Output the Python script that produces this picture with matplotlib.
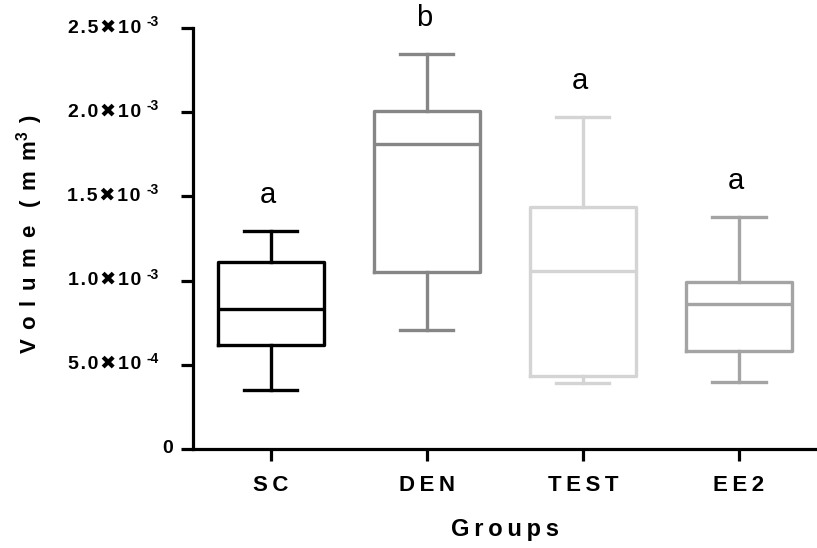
import matplotlib
matplotlib.use("Agg")
import matplotlib.pyplot as plt

# box statistics (values in mm^3)
groups = ["SC", "DEN", "TEST", "EE2"]
whisker_low = [0.35e-3, 0.707e-3, 0.39e-3, 0.40e-3]
q1 = [0.618e-3, 1.05e-3, 0.433e-3, 0.58e-3]
median = [0.83e-3, 1.81e-3, 1.057e-3, 0.86e-3]
q3 = [1.11e-3, 2.007e-3, 1.437e-3, 0.99e-3]
whisker_high = [1.295e-3, 2.345e-3, 1.97e-3, 1.378e-3]
letters = ["a", "b", "a", "a"]
colors = ["#000000", "#868686", "#d4d4d4", "#a4a4a4"]

yticks = [0, 0.5e-3, 1.0e-3, 1.5e-3, 2.0e-3, 2.5e-3]
ytick_mant = ["0", "5.0", "1.0", "1.5", "2.0", "2.5"]
ytick_exp = [None, "-4", "-3", "-3", "-3", "-3"]

plt.rcParams['font.family'] = ['Liberation Sans', 'DejaVu Sans']
plt.rcParams['mathtext.fontset'] = 'custom'
plt.rcParams['mathtext.rm'] = 'Liberation Sans'
plt.rcParams['mathtext.bf'] = 'Liberation Sans:bold'

HS = "\u200a"   # hair space
TS = "\u2009"   # thin space


def spaced(s, sep=HS):
    return sep.join(s)


fig = plt.figure(figsize=(8.17, 5.48), dpi=100)
ax = fig.add_axes([0.236, 0.1807, 0.764, 0.7682])

lw = 2.4
for i, g in enumerate(groups):
    stats = [dict(med=median[i], q1=q1[i], q3=q3[i],
                  whislo=whisker_low[i], whishi=whisker_high[i], fliers=[])]
    c = colors[i]
    ax.bxp(stats, positions=[i], widths=0.68, capwidths=0.34, showfliers=False,
           boxprops=dict(color=c, linewidth=lw),
           medianprops=dict(color=c, linewidth=lw),
           whiskerprops=dict(color=c, linewidth=lw),
           capprops=dict(color=c, linewidth=lw),
           manage_ticks=False)
    ax.annotate(letters[i], (i, whisker_high[i]), xytext=(-2, 26),
                textcoords="offset points", ha="center", va="center",
                fontsize=21, annotation_clip=False)

ax.set_xlim(-0.5, 3.5)
ax.set_ylim(0, 2.5e-3)
ax.set_xticks(range(len(groups)))
ax.set_xticklabels([spaced(g, TS) for g in groups], fontsize=16, fontweight="bold")
ax.set_yticks(yticks)
ax.set_yticklabels([])

# y tick labels: mantissa x 10 with a raised exponent
for y, m, e in zip(yticks, ytick_mant, ytick_exp):
    if e is None:
        ax.annotate(m, (0, y), xycoords=("axes fraction", "data"),
                    xytext=(-20, 0), textcoords="offset pixels",
                    ha="right", va="center", fontsize=14, fontweight="bold",
                    annotation_clip=False)
        continue
    ax.annotate(spaced(m) + HS + "\u2716" + HS + spaced("10"), (0, y),
                xycoords=("axes fraction", "data"),
                xytext=(-52, 0), textcoords="offset pixels",
                ha="right", va="center", fontsize=14, fontweight="bold",
                annotation_clip=False)
    ax.annotate(e, (0, y), xycoords=("axes fraction", "data"),
                xytext=(-46, 6), textcoords="offset pixels",
                ha="left", va="center", fontsize=10, fontweight="bold",
                annotation_clip=False)

for side in ["top", "right"]:
    ax.spines[side].set_visible(False)
for side in ["left", "bottom"]:
    ax.spines[side].set_linewidth(2.3)
ax.tick_params(axis="both", width=2.3, length=8.5, direction="out")
ax.tick_params(axis="x", pad=10)

ax.set_xlabel(spaced("Groups", TS), fontsize=17, fontweight="bold", va="top")
ax.xaxis.set_label_coords(0.5, -0.164)
ax.set_ylabel(r"$\mathbf{V\;\,o\;\,l\;\,u\;\,m\;\,e\;\;\;(\;\,m\;\,m^{3}\;\,)}$",
              fontsize=16, va="center")
ax.yaxis.set_label_coords(-0.262, 0.51)

fig.savefig("out.png", dpi=100)
